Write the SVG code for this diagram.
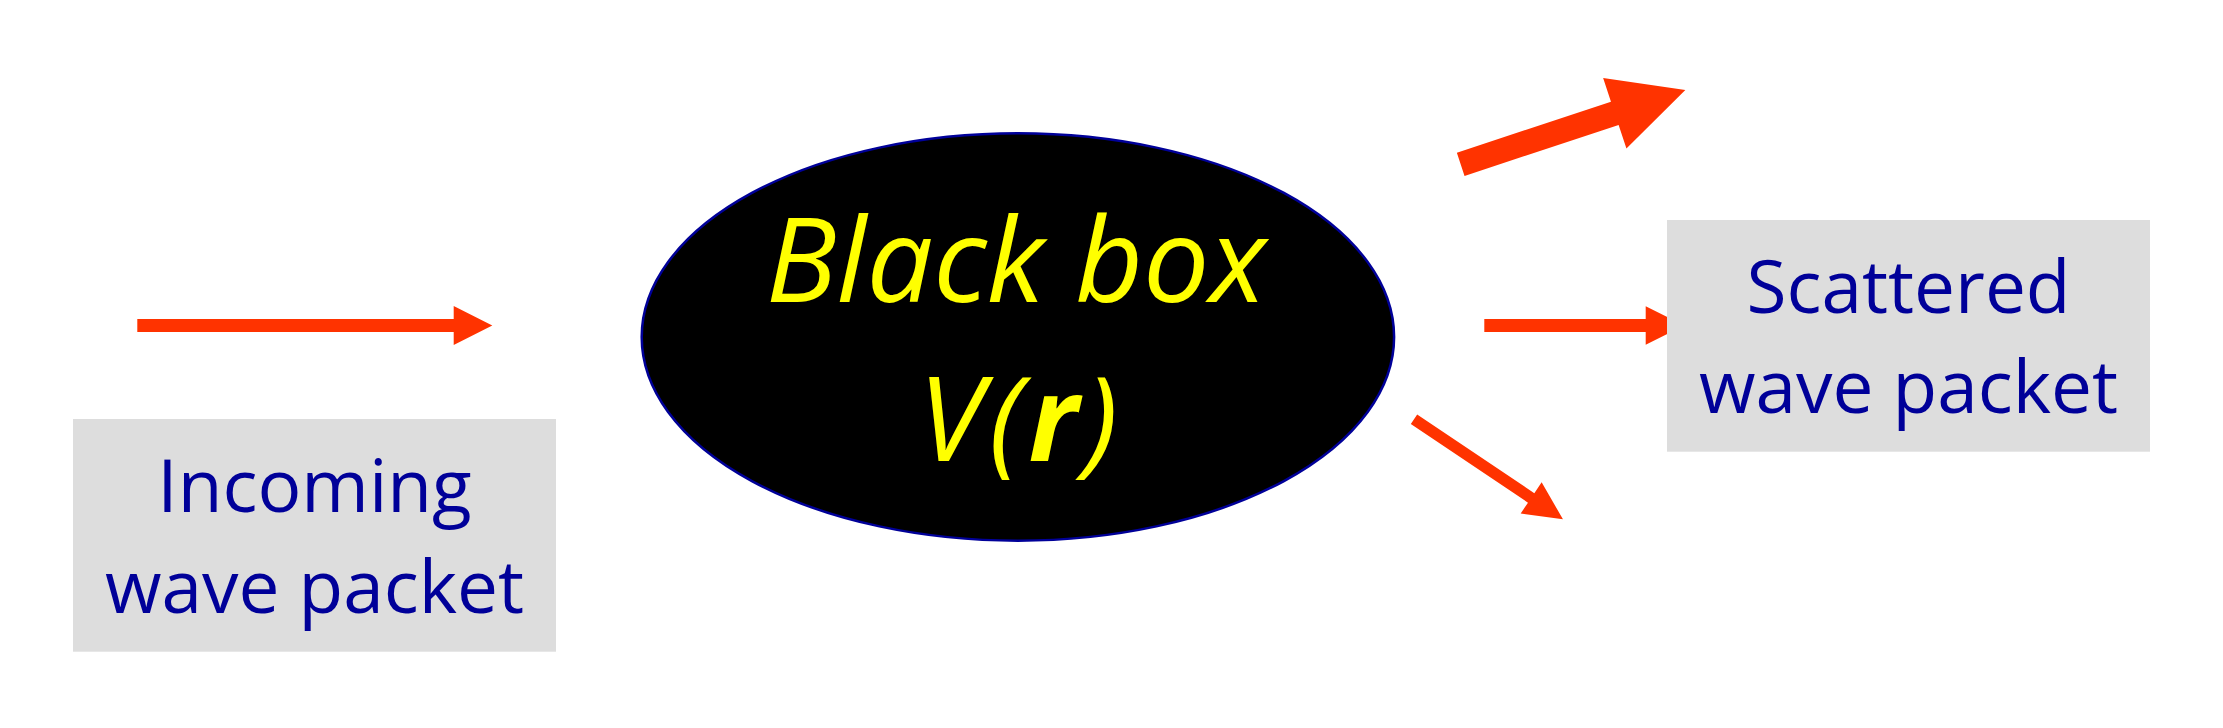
<svg xmlns="http://www.w3.org/2000/svg" width="2223" height="728" viewBox="0 0 2223 728">
  <style>
    .arrow { fill: #FF3300; }
    .box { fill: #DDDDDD; }
    .lbl { font-family: "Open Sans", "Noto Sans", "Liberation Sans", sans-serif; font-size: 73px; fill: #000099; text-anchor: middle; }
    .bb { font-family: "Open Sans", "Noto Sans", "Liberation Sans", sans-serif; font-size: 118px; font-style: italic; fill: #FFFF00; text-anchor: middle; }
  </style>
  <rect width="2223" height="728" fill="#FFFFFF"/>
  <g id="connectors">
    <polygon class="arrow" points="137.3,319 453.7,319 453.7,306 492.3,325.5 453.7,345 453.7,332 137.3,332"/>
    <polygon class="arrow" points="1484.3,319 1645.7,319 1645.7,306.3 1684.3,325.5 1645.7,344.7 1645.7,332 1484.3,332"/>
    <polygon class="arrow" transform="translate(1460.7,164.3) rotate(-18.3)" points="0,-12.2 162.3,-12.2 162.3,-37.1 236.6,0 162.3,37.1 162.3,12.2 0,12.2"/>
    <polygon class="arrow" transform="translate(1414,419.3) rotate(33.87)" points="0,-5.7 141.1,-5.7 141.1,-18.8 179.4,0 141.1,18.8 141.1,5.7 0,5.7"/>
  </g>
  <g id="incoming">
    <rect class="box" x="73" y="419" width="483" height="232.7"/>
    <text class="lbl" x="314.5" y="512.3">Incoming</text>
    <text class="lbl" x="314.5" y="612.7">wave packet</text>
  </g>
  <g id="blackbox">
    <ellipse cx="1017.9" cy="337" rx="376.2" ry="203.7" fill="#000000" stroke="#000099" stroke-width="2.5"/>
    <text class="bb" x="1016" y="301.7">Black box</text>
    <text class="bb" x="1021" y="460.7" letter-spacing="6">V(<tspan font-weight="bold">r</tspan>)</text>
  </g>
  <g id="scattered">
    <rect class="box" x="1667" y="220" width="483" height="231.7"/>
    <text class="lbl" x="1908.5" y="313.3">Scattered</text>
    <text class="lbl" x="1908.5" y="413.3">wave packet</text>
  </g>
</svg>
